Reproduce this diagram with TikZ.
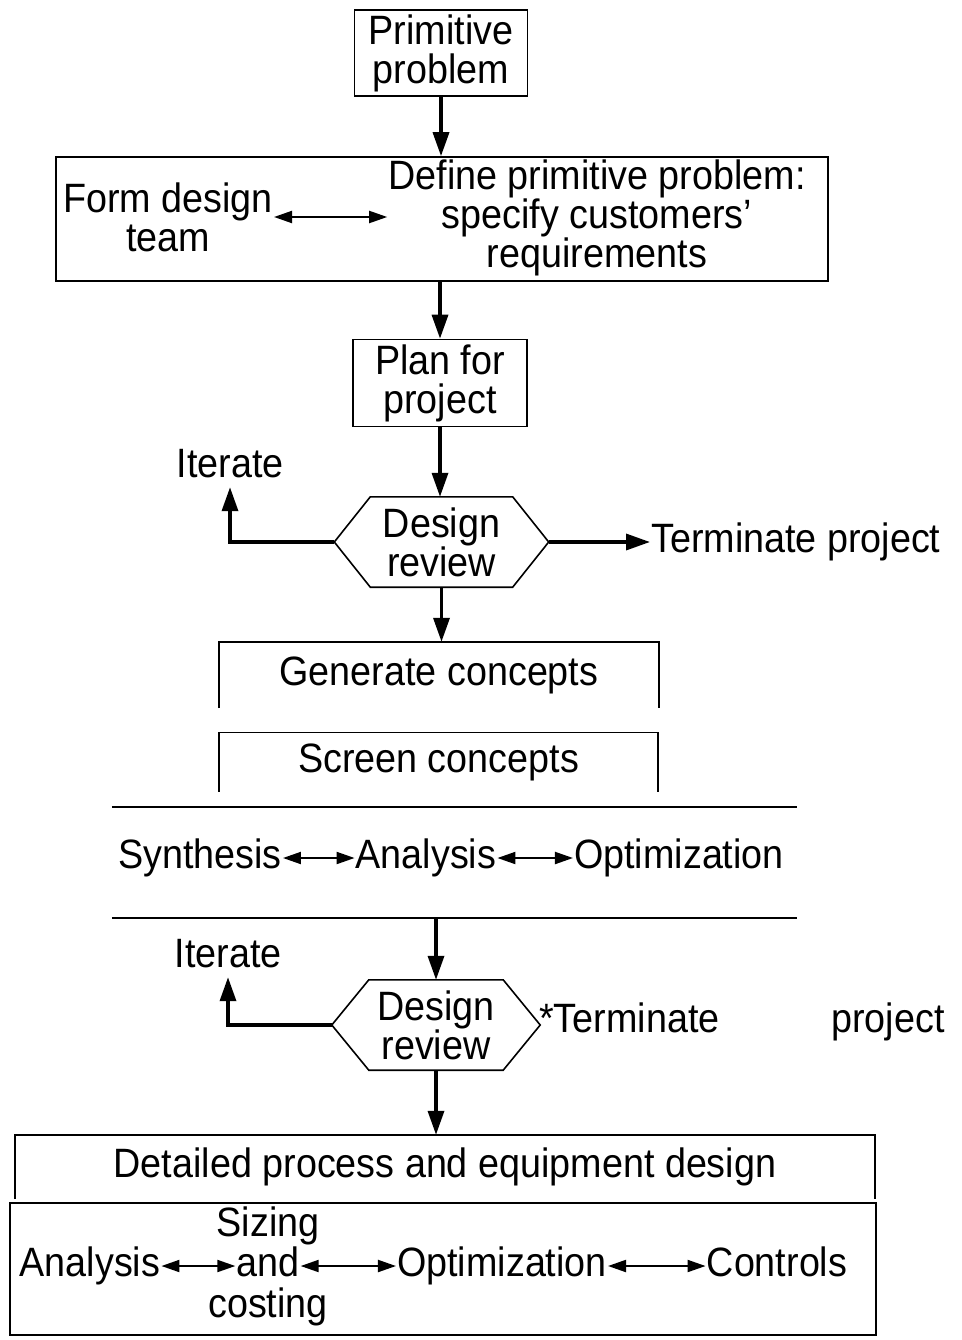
\documentclass[tikz,border=0pt]{standalone}
\usepackage{fontspec}
\setmainfont{Liberation Sans}[FakeStretch=0.92]
\usetikzlibrary{arrows.meta,positioning}

\tikzset{
  box/.style={draw,line width=1.6pt,align=center,inner sep=2pt},
  txt/.style={align=center,inner sep=1pt},
  word/.style={inner sep=1pt,text height=29pt,text depth=9pt},
  review/.style={align=center,minimum height=90pt,inner sep=0pt},
  flow/.style={line width=3.4pt,-{Triangle[length=24pt,width=16pt]}},
  twoway/.style={line width=2pt,{Triangle[length=18pt,width=12pt]}-{Triangle[length=18pt,width=12pt]}},
  thinline/.style={line width=1.6pt},
}

\begin{document}
\begin{tikzpicture}[x=1pt,y=-1pt,font=\fontsize{41}{39}\selectfont]
\useasboundingbox (0,0) rectangle (961,1340);

% top of the chart
\node[box,minimum width=173pt,minimum height=86pt] (prim) at (441,53) {Primitive\\problem};
\node[box,minimum width=772pt,minimum height=124pt] (team) at (442,219) {};
\node[txt] (form) at (168,217) {Form design\\team};
\node[txt] (define) at (597,218) {Define primitive problem:\\specify customers'\\requirements};
\node[box,minimum width=174pt,minimum height=87pt] (plan) at (440,383) {Plan for\\project};

% first review
\node[review,minimum width=142pt] (rev1) at (441.5,542) {Design\\review};
\coordinate (rev1w) at ([xshift=-36pt]rev1.west);
\coordinate (rev1e) at ([xshift=36pt]rev1.east);
\node[word] (it1) at (230,467) {Iterate};
\node[word,anchor=west] (term1) at (650,542) {Terminate project};

% concepts
\node[txt,minimum width=440pt,minimum height=66pt] (gen) at (439,675) {Generate concepts};
\node[txt,minimum width=439pt,minimum height=59pt] (scr) at (438.5,762) {Screen concepts};
\node[minimum width=685pt,minimum height=111pt] (band) at (454.5,862.5) {};
\node[word] (syn) at (200,858) {Synthesis};
\node[word] (ana) at (426,858) {Analysis};
\node[word] (opt) at (679,858) {Optimization};

% second review
\node[review,minimum width=134pt] (rev2) at (436,1025) {Design\\review};
\coordinate (rev2w) at ([xshift=-37pt]rev2.west);
\coordinate (rev2e) at ([xshift=37pt]rev2.east);
\node[word] (it2) at (228,957) {Iterate};
\node[word,anchor=west] (tm2) at (538,1022) {*Terminate};
\node[word] (pj2) at (888,1022) {project};

% detailed design
\node[txt,minimum width=860pt,minimum height=64pt] (det) at (445,1167) {Detailed process and equipment design};
\node[box,minimum width=866pt,minimum height=132pt] (sub) at (443,1269) {};
\node[word] (an2) at (90,1266) {Analysis};
\node[word,label={[inner sep=0pt,label distance=1pt]above:Sizing},
  label={[inner sep=0pt,label distance=1pt]below:costing}] (siz) at (268,1266) {and};
\node[word] (opt2) at (502,1266) {Optimization};
\node[word] (ctl) at (777,1266) {Controls};

% hexagons, open boxes and rules
\draw[thinline] (rev1.north west) -- (rev1.north east) -- (rev1e) -- (rev1.south east)
  -- (rev1.south west) -- (rev1w) -- cycle;
\draw[thinline] (rev2.north west) -- (rev2.north east) -- (rev2e) -- (rev2.south east)
  -- (rev2.south west) -- (rev2w) -- cycle;
\draw[thinline] (gen.south west) |- (gen.north east) -- (gen.south east);
\draw[thinline] (scr.south west) |- (scr.north east) -- (scr.south east);
\draw[thinline] (band.north west) -- (band.north east) (band.south west) -- (band.south east);
\draw[thinline] (det.south west) |- (det.north east) -- (det.south east);

% connectors
\path[flow] (prim.south) edge (prim.south |- team.north)
  (plan.north |- team.south) edge (plan.north)
  (plan.south) edge (plan.south |- rev1.north)
  (rev1.south) edge (rev1.south |- gen.north)
  (rev1e) edge (term1.west)
  (rev2.north |- band.south) edge (rev2.north)
  (rev2.south) edge (rev2.south |- det.north);
\draw[flow] (rev1w) -| (it1.south);
\draw[flow] (rev2w) -| (it2.south);
\path[twoway] (form.east) edge (form.east -| define.west)
  (syn) edge (ana)
  (ana) edge (opt)
  (an2) edge (siz)
  (siz) edge (opt2)
  (opt2) edge (ctl);
\end{tikzpicture}
\end{document}
